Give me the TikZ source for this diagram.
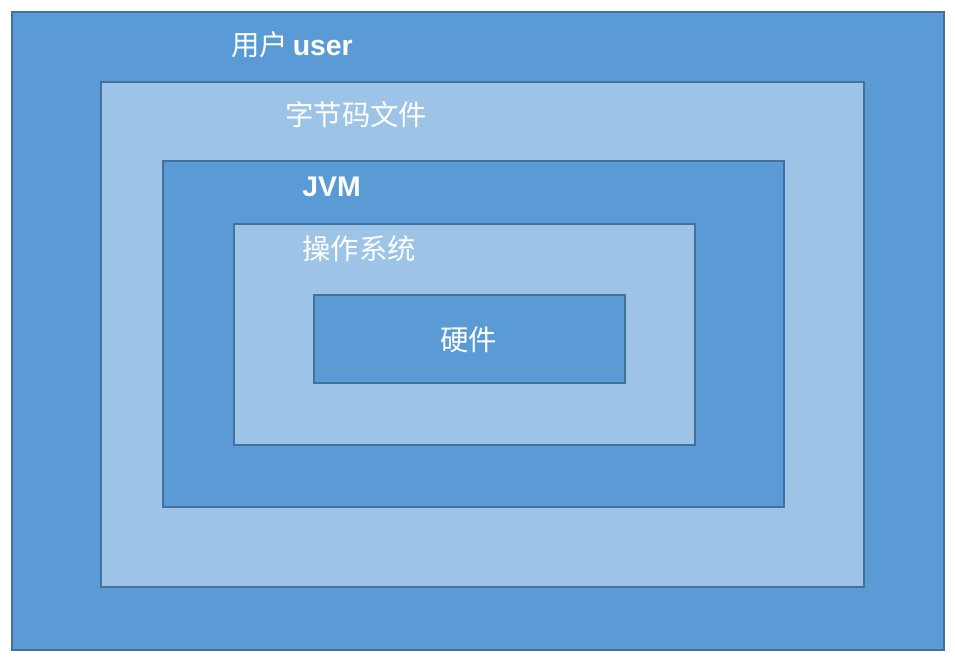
\documentclass[tikz,border=0pt]{standalone}
\usepackage{fontspec}
\usepackage{xcolor}
\usepackage{tikz}
\setmainfont{Liberation Sans}
\newfontfamily\cjk{Noto Sans CJK SC}

\definecolor{darkblue}{HTML}{5B9BD5}
\definecolor{lightblue}{HTML}{9DC3E6}
\definecolor{edgeblue}{HTML}{41719C}

\tikzset{
    layer/.style={draw=edgeblue, line width=1.1pt},
    label/.style={text=white, anchor=west, inner sep=0pt, font=\fontsize{21.3}{25}\selectfont}
}

\begin{document}
\begin{tikzpicture}[x=0.75pt, y=-0.75pt]
    \useasboundingbox (0, 0) rectangle (955, 660);

    \coordinate (U1) at (12, 12);
    \coordinate (U2) at (944, 650);
    \coordinate (B1) at (101, 82);
    \coordinate (B2) at (864, 587);
    \coordinate (J1) at (163, 161);
    \coordinate (J2) at (784, 507);
    \coordinate (O1) at (234, 224);
    \coordinate (O2) at (695, 445);
    \coordinate (H1) at (314, 295);
    \coordinate (H2) at (625, 383);

    \draw[layer, fill=darkblue] (U1) rectangle (U2);
    \draw[layer, fill=lightblue] (B1) rectangle (B2);
    \draw[layer, fill=darkblue] (J1) rectangle (J2);
    \draw[layer, fill=lightblue] (O1) rectangle (O2);
    \draw[layer, fill=darkblue] (H1) rectangle (H2);

    \node[label] (user) at (231, 45) {{\cjk 用户}\,\textbf{user}};
    \node[label] (bytecode) at (285, 115) {\cjk 字节码文件};
    \node[label] (jvm) at (302, 187) {\textbf{JVM}};
    \node[label] (os) at (302, 249) {\cjk 操作系统};
    \node[label] (hw) at (440, 340) {\cjk 硬件};

\end{tikzpicture}
\end{document}
